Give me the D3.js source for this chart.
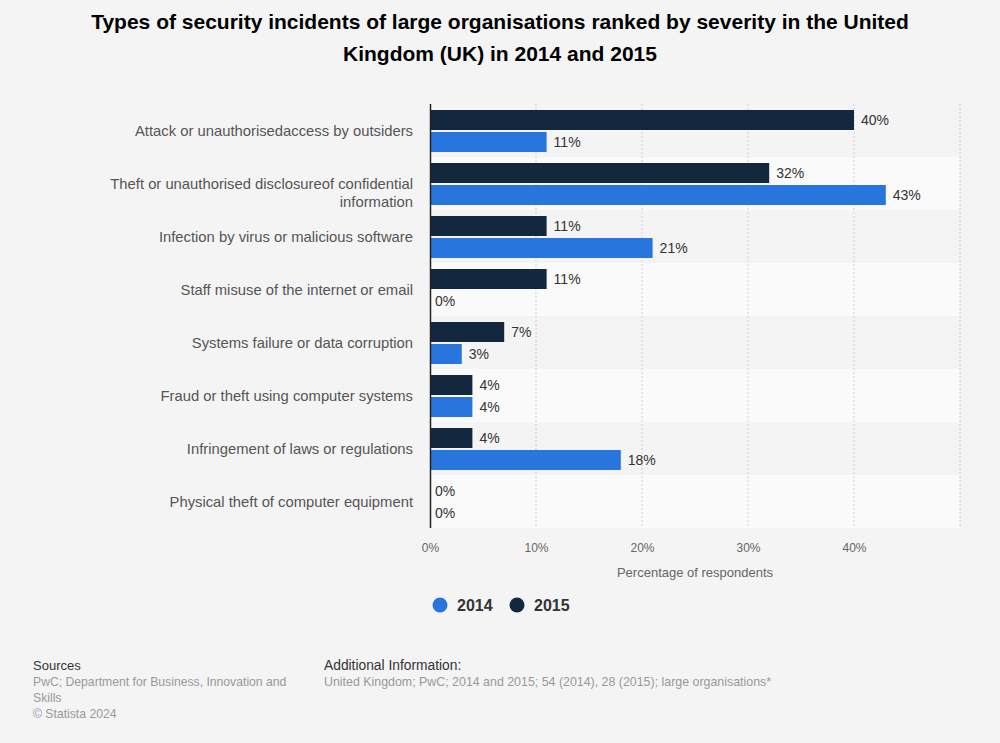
<!DOCTYPE html>
<html><head><meta charset="utf-8">
<script src="https://cdn.jsdelivr.net/npm/d3@7"></script>
<style>
body{margin:0;background:#f4f4f4;}
text{font-family:"Liberation Sans",Arial,Helvetica,sans-serif;}
</style></head>
<body><svg id="c" width="1000" height="743"></svg>
<script>
const categories = [
  ["Attack or unauthorisedaccess by outsiders"],
  ["Theft or unauthorised disclosureof confidential","information"],
  ["Infection by virus or malicious software"],
  ["Staff misuse of the internet or email"],
  ["Systems failure or data corruption"],
  ["Fraud or theft using computer systems"],
  ["Infringement of laws or regulations"],
  ["Physical theft of computer equipment"]
];
const values2015 = [40, 32, 11, 11, 7, 4, 4, 0];
const values2014 = [11, 43, 21, 0, 3, 4, 18, 0];
const tickValues = [0, 10, 20, 30, 40];
const gridValues = [10, 20, 30, 40, 50];
const seriesNames = ["2014", "2015"];
const colors = {"2014": "#2876dd", "2015": "#13283f"};

const svg = d3.select("#c");
svg.append("rect").attr("width",1000).attr("height",743).attr("fill","#f4f4f4");

// title
const title = ["Types of security incidents of large organisations ranked by severity in the United","Kingdom (UK) in 2014 and 2015"];
svg.append("text").attr("x",500).attr("y",29).attr("text-anchor","middle")
  .style("font-size","21px").style("font-weight","bold").attr("fill","#000")
  .selectAll("tspan").data(title).join("tspan").attr("x",500).attr("dy",(d,i)=>i?32:0).text(d=>d);

const x = d3.scaleLinear().domain([0,50]).range([430,960]);
const y = d3.scaleBand().domain(d3.range(categories.length)).range([104,528]);

// bands
svg.append("g").selectAll("rect").data(d3.range(categories.length)).join("rect")
  .attr("x",430).attr("width",960-430).attr("y",i=>y(i)).attr("height",y.bandwidth())
  .attr("fill",i=>i%2? "#fafafa":"#f4f4f4");

// grid
svg.append("g").selectAll("line").data(gridValues).join("line")
  .attr("x1",d=>x(d)).attr("x2",d=>x(d)).attr("y1",104).attr("y2",528)
  .attr("stroke","#cfcfcf").attr("stroke-dasharray","2,2").attr("stroke-width",1);

const barH = 20;
function drawSeries(vals, name, off){
  const g = svg.append("g");
  g.selectAll("rect").data(vals).join("rect")
    .attr("x",x(0)).attr("y",(d,i)=>y(i)+off).attr("height",barH)
    .attr("width",d=>x(d)-x(0)).attr("fill",colors[name]);
  g.selectAll("text").data(vals).join("text")
    .attr("x",d=>x(d)+(d>0?7:5)).attr("y",(d,i)=>y(i)+off+barH/2+5)
    .style("font-size","14px").attr("fill","#333").text(d=>d+"%");
}
drawSeries(values2015,"2015",6);
drawSeries(values2014,"2014",28);

// y axis line
svg.append("line").attr("x1",430.5).attr("x2",430.5).attr("y1",104).attr("y2",528)
  .attr("stroke","#222").attr("stroke-width",1.5);

// category labels
svg.append("g").selectAll("text").data(categories).join("text")
  .attr("text-anchor","end").attr("fill","#555").style("font-size","14.8px")
  .attr("y",(d,i)=>y(i)+y.bandwidth()/2+5)
  .each(function(d){
    d3.select(this).selectAll("tspan").data(d).join("tspan")
      .attr("x",413).attr("dy",(t,j)=>j?18:0).text(t=>t);
  });

// x axis
const xAxis = d3.axisBottom(x).tickValues(tickValues).tickFormat(d=>d+"%").tickSize(0);
const ax = svg.append("g").attr("transform","translate(0,540)").call(xAxis);
ax.select(".domain").remove();
ax.selectAll("text").style("font-size","12px").attr("fill","#666")
  .style("font-family","'Liberation Sans',Arial,sans-serif");

svg.append("text").attr("x",695).attr("y",577).attr("text-anchor","middle")
  .style("font-size","13px").attr("fill","#666").text("Percentage of respondents");

// legend
const leg = svg.append("g");
const legX = [440, 517];
seriesNames.forEach((n,i)=>{
  leg.append("circle").attr("cx",legX[i]).attr("cy",605).attr("r",7.5).attr("fill",colors[n]);
  leg.append("text").attr("x",legX[i]+17).attr("y",611).style("font-size","16px")
    .style("font-weight","bold").attr("fill","#333").text(n);
});

// footer
svg.append("text").attr("x",33).attr("y",670).style("font-size","13px").attr("fill","#333").text("Sources");
svg.append("g").selectAll("text").data(["PwC; Department for Business, Innovation and","Skills","© Statista 2024"]).join("text")
  .attr("x",33).attr("y",(d,i)=>686+i*16).style("font-size","12.2px").attr("fill","#999").text(d=>d);
svg.append("text").attr("x",324).attr("y",670).style("font-size","13.8px").attr("fill","#333").text("Additional Information:");
svg.append("text").attr("x",324).attr("y",686).style("font-size","12.4px").attr("fill","#999")
  .text("United Kingdom; PwC; 2014 and 2015; 54 (2014), 28 (2015); large organisations*");
</script></body></html>
